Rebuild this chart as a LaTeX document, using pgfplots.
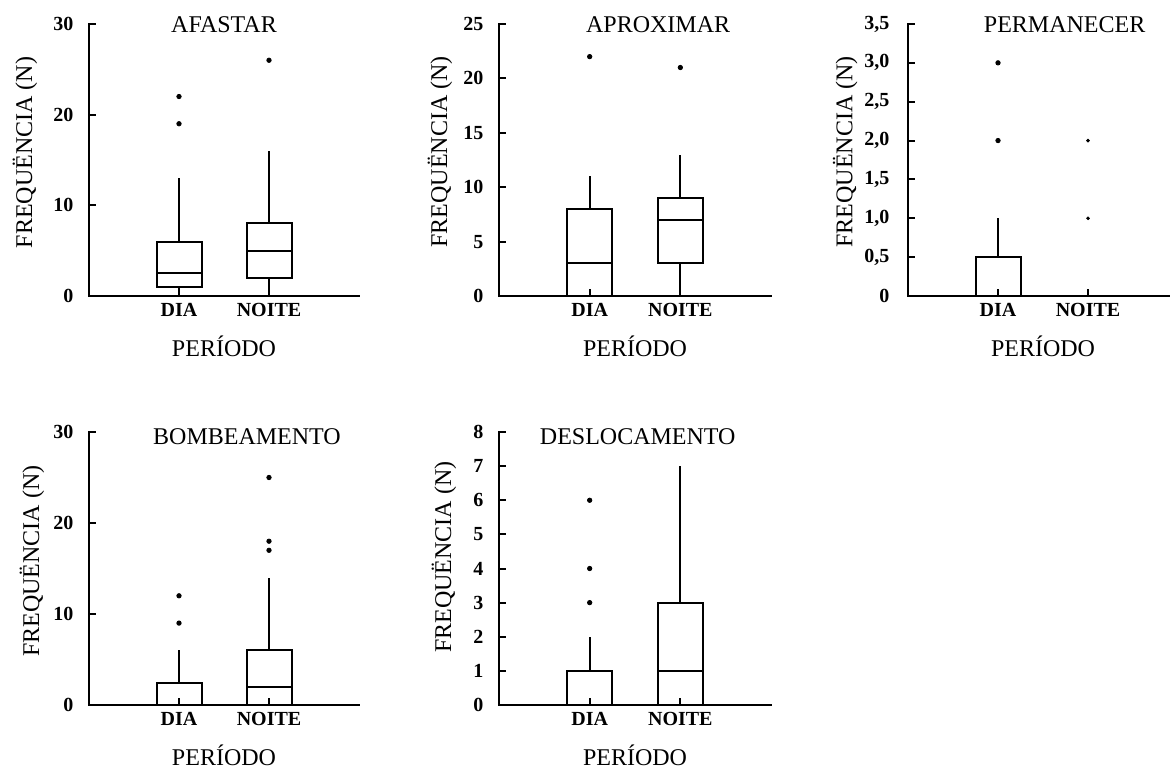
\documentclass[border=0pt]{standalone}
\usepackage{fontspec}
\setmainfont{Liberation Serif}
\usepackage{pgfplots}
\pgfplotsset{compat=1.18}
\usepgfplotslibrary{statistics}
\pgfplotsset{
 panel/.style={
  scale only axis, anchor=south west,
  tick pos=left,
  axis line style={draw=none},
  line width=1pt,
  xmin=0, xmax=3, ymin=0,
  xtick={1,2}, xticklabels={DIA,NOITE},
  tick label style={font=\fontsize{10}{12}\selectfont\bfseries},
  yticklabel style={xshift=-4pt},
  /pgf/number format/assume math mode=true,
  xlabel={PERÍODO},
  ylabel={FREQUËNCIA (N)},
  xlabel style={font=\fontsize{12}{14}\selectfont, at={(axis description cs:0.5,-0.118)}, anchor=north},
  ylabel style={font=\fontsize{12}{14}\selectfont, anchor=center},
  title style={font=\fontsize{12}{14}\selectfont, anchor=center},
  boxplot/draw direction=y,
  boxplot/box extend=0.5, boxplot/whisker extend=0,
  clip=false,
  every axis plot/.append style={black, line width=1pt, mark=*, mark size=1.1pt, mark options={solid, fill=black, line width=0.4pt}},
  tick align=inside, major tick length=3.5pt,
  every tick/.style={black, line width=1pt},
  after end axis/.code={\draw[black, line width=1pt, line cap=rect] (axis description cs:0,1) -- (axis description cs:0,0) -- (axis description cs:1,0);},
 }
}
\begin{document}
\begin{tikzpicture}
\useasboundingbox (0,0) rectangle (585pt,385.5pt);
% AFASTAR
\begin{axis}[panel, at={(44.5pt,237.5pt)}, width=135pt, height=136pt,
  ymax=30, ytick={0,10,20,30}, title={AFASTAR},
  title style={at={(axis description cs:0.5,1)}, yshift=-6.5pt},
  ylabel style={at={(axis description cs:-0.237,0.528)}}]
\addplot[boxplot prepared={draw position=1, lower whisker=0, lower quartile=1, median=2.5, upper quartile=6, upper whisker=13}]
  table[row sep=\\, y index=0] {data\\ 19\\ 22\\};
\addplot[boxplot prepared={draw position=2, lower whisker=0, lower quartile=2, median=5, upper quartile=8, upper whisker=16}]
  table[row sep=\\, y index=0] {data\\ 26\\};
\end{axis}
% APROXIMAR
\begin{axis}[panel, at={(249.5pt,237.5pt)}, width=136pt, height=136pt,
  ymax=25, ytick={0,5,10,15,20,25}, title={APROXIMAR},
  title style={at={(axis description cs:0.585,1)}, yshift=-6.5pt},
  ylabel style={at={(axis description cs:-0.217,0.53)}}]
\addplot[boxplot prepared={draw position=1, lower whisker=0, lower quartile=0, median=3, upper quartile=8, upper whisker=11}]
  table[row sep=\\, y index=0] {data\\ 22\\};
\addplot[boxplot prepared={draw position=2, lower whisker=0, lower quartile=3, median=7, upper quartile=9, upper whisker=13}]
  table[row sep=\\, y index=0] {data\\ 21\\};
\end{axis}
% PERMANECER
\begin{axis}[panel, at={(454pt,237.5pt)}, width=135pt, height=136pt,
  ymax=3.5, ytick={0,0.5,1,1.5,2,2.5,3,3.5},
  yticklabels={0,{0,5},{1,0},{1,5},{2,0},{2,5},{3,0},{3,5}},
  yticklabel style={xshift=-1.5pt},
  title={PERMANECER},
  title style={at={(axis description cs:0.58,1)}, yshift=-6.5pt},
  ylabel style={at={(axis description cs:-0.233,0.53)}}]
\addplot[boxplot prepared={draw position=1, lower whisker=0, lower quartile=0, median=0, upper quartile=0.5, upper whisker=1}]
  table[row sep=\\, y index=0] {data\\ 2\\ 3\\};
\addplot[boxplot prepared={draw position=2, lower whisker=0, lower quartile=0, median=0, upper quartile=0, upper whisker=0}, mark size=0.7pt]
  table[row sep=\\, y index=0] {data\\ 1\\ 2\\};
\end{axis}
% BOMBEAMENTO
\begin{axis}[panel, at={(44.5pt,33pt)}, width=135pt, height=136.5pt,
  ymax=30, ytick={0,10,20,30}, title={BOMBEAMENTO},
  title style={at={(axis description cs:0.585,1)}, yshift=-8.5pt},
  ylabel style={at={(axis description cs:-0.211,0.527)}}]
\addplot[boxplot prepared={draw position=1, lower whisker=0, lower quartile=0, median=0, upper quartile=2.4, upper whisker=6}]
  table[row sep=\\, y index=0] {data\\ 9\\ 12\\};
\addplot[boxplot prepared={draw position=2, lower whisker=0, lower quartile=0, median=2, upper quartile=6, upper whisker=14}]
  table[row sep=\\, y index=0] {data\\ 17\\ 18\\ 25\\};
\end{axis}
% DESLOCAMENTO
\begin{axis}[panel, at={(249.5pt,33pt)}, width=136pt, height=136.5pt,
  ymax=8, ytick={0,1,2,3,4,5,6,7,8}, title={DESLOCAMENTO},
  title style={at={(axis description cs:0.51,1)}, yshift=-8.5pt},
  ylabel style={at={(axis description cs:-0.202,0.542)}}]
\addplot[boxplot prepared={draw position=1, lower whisker=0, lower quartile=0, median=0, upper quartile=1, upper whisker=2}]
  table[row sep=\\, y index=0] {data\\ 3\\ 4\\ 6\\};
\addplot[boxplot prepared={draw position=2, lower whisker=0, lower quartile=0, median=1, upper quartile=3, upper whisker=7}]
  table[row sep=\\, y index=0] {data\\};
\end{axis}
\end{tikzpicture}
\end{document}
